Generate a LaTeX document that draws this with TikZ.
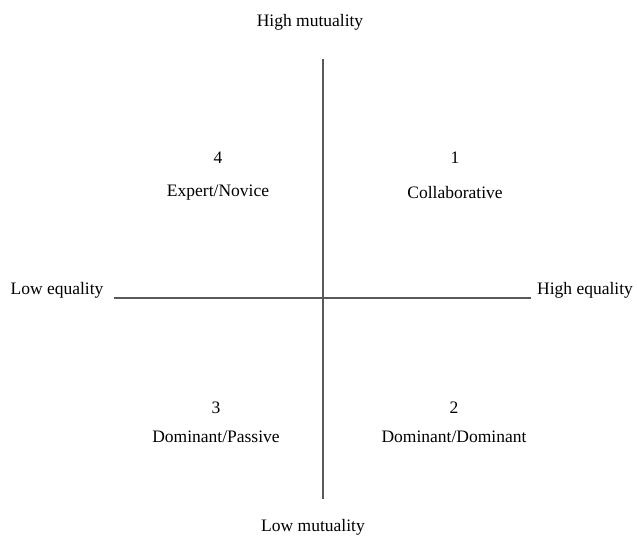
\documentclass[tikz,border=0pt]{standalone}
\usepackage{fontspec}
\setmainfont{Liberation Serif}
\begin{document}
\begin{tikzpicture}[x=1pt,y=-1pt,
  lbl/.style={font=\fontsize{17.5}{20}\selectfont, text=black, inner sep=0pt},
  axis/.style={draw=black!65, line width=1.1pt}]
\useasboundingbox (0,0) rectangle (637,544);
\coordinate (top) at (323,59);
\coordinate (bot) at (323,499);
\coordinate (lft) at (114,298);
\coordinate (rgt) at (531,298);
\draw[axis] (top) -- (bot);
\draw[axis] (lft) -- (rgt);
\node[lbl] (hm) at (310,22) {High mutuality};
\node[lbl] (lm) at (313,527) {Low mutuality};
\node[lbl] (le) at (57,290) {Low equality};
\node[lbl] (he) at (585,290) {High equality};
\node[lbl] (n4) at (218,158) {4};
\node[lbl] (t4) at (218,193) {Expert/Novice};
\node[lbl] (n1) at (455,158) {1};
\node[lbl] (t1) at (455,193) {Collaborative};
\node[lbl] (n3) at (216,408) {3};
\node[lbl] (t3) at (216,437) {Dominant/Passive};
\node[lbl] (n2) at (454,408) {2};
\node[lbl] (t2) at (454,437) {Dominant/Dominant};
\end{tikzpicture}
\end{document}
